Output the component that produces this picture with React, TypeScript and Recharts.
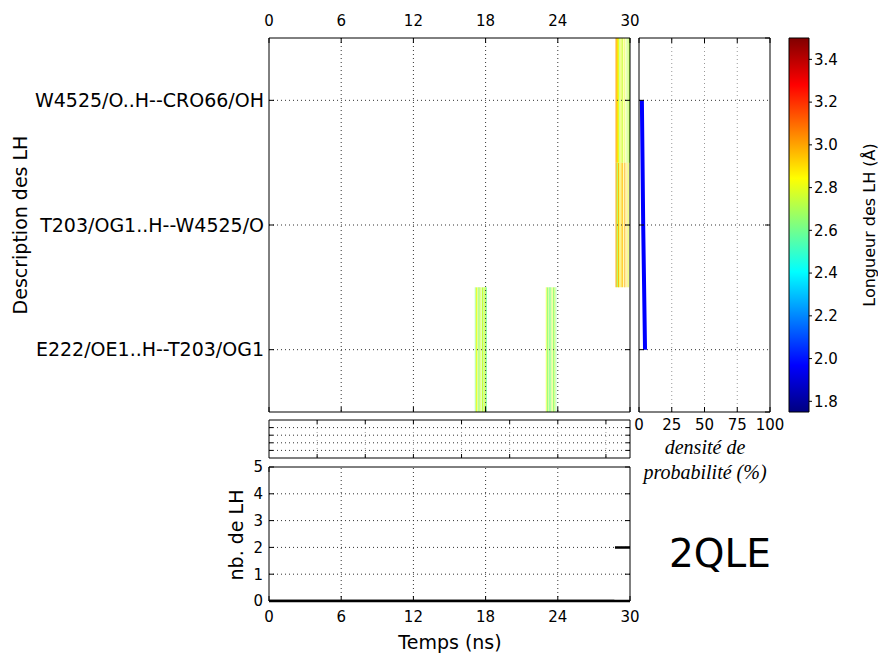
import React from 'react';
import { ComposedChart, LineChart, Line, XAxis, YAxis, ReferenceArea, ReferenceLine } from 'recharts';

const W = 878;
const H = 655;
const FONT = '"DejaVu Sans", sans-serif';

const BOND_LABELS = ['E222/OE1..H--T203/OG1', 'T203/OG1..H--W4525/O', 'W4525/O..H--CRO66/OH'];
const BOND_INDEX = [0, 1, 2];
const TIME_TICKS = [0, 6, 12, 18, 24, 30];
const TIME_GRID = [6, 12, 18, 24];
const STRIP_TICKS = [4, 8, 12, 16, 20, 24, 28];
const STRIP_Y_TICKS = [1, 2, 3, 4];
const DENSITY_TICKS = [0, 25, 50, 75, 100];
const DENSITY_GRID = [25, 50, 75];
const COLORBAR_TICKS = [1.8, 2.0, 2.2, 2.4, 2.6, 2.8, 3.0, 3.2, 3.4];
const COUNT_TICKS = [0, 1, 2, 3, 4, 5];
const COUNT_GRID = [1, 2, 3, 4];

// width of one frame stripe (ns)
const STEP = 0.1;

// E222/OE1..H--T203/OG1
const E222_T = [17.1, 17.2, 17.3, 17.4, 17.5, 17.6, 17.7, 17.8, 17.9, 18.0, 23.0, 23.1, 23.2, 23.3, 23.4, 23.5, 23.6, 23.7, 23.8];
const E222_LEN = [2.65, 2.8, 2.75, 2.65, 2.8, 2.7, 2.75, 2.65, 2.8, 2.6, 2.8, 2.65, 2.75, 2.6, 2.7, 2.8, 2.65, 2.75, 2.6];
const E222_OCC = [0.6, 0.9, 0.5, 1, 0.6, 0.4, 1, 0.6, 1, 0.9, 0.6, 0.9, 0.5, 1, 0.5, 0.4, 0.9, 0.6, 0.4];

// T203/OG1..H--W4525/O
const T203_T = [28.8, 28.9, 29.0, 29.1, 29.2, 29.3, 29.4, 29.5, 29.6, 29.7, 29.8];
const T203_LEN = [3.0, 2.7, 2.95, 2.8, 2.9, 2.95, 2.85, 3.0, 2.9, 2.95, 2.8];
const T203_OCC = [1, 0.9, 1, 0.6, 0.5, 1, 0.3, 0.6, 0.4, 0.3, 0.7];

// W4525/O..H--CRO66/OH
const W4525_T = [28.8, 28.9, 29.0, 29.1, 29.2, 29.3, 29.4, 29.5, 29.6, 29.7, 29.8, 29.9];
const W4525_LEN = [3.0, 2.9, 2.8, 2.7, 2.85, 2.75, 2.85, 2.8, 2.85, 2.7, 2.75, 2.7];
const W4525_OCC = [1, 1, 1, 0.6, 0.5, 1, 0.3, 0.5, 0.2, 0.5, 0.6, 1];

const DENSITY = [4.6, 3.2, 2.2]; // % per bond index
const COUNT_TIME = [0, 28.7, 28.72, 28.75, 30];
const COUNT_VALUE = [0, 0, null, 2, 2];

const jet = (v: number) => {
  const t = (v - 1.75) / 1.75;
  const c = (k: number) => Math.round(255 * Math.max(0, Math.min(1, 1.5 - Math.abs(4 * t - k))));
  return `rgb(${c(3)},${c(2)},${c(1)})`;
};

const blank = () => '';
const tickStyle = { fontSize: 15, fill: '#000' };

const stripes = [
  { bond: 0, t: E222_T, len: E222_LEN, occ: E222_OCC },
  { bond: 1, t: T203_T, len: T203_LEN, occ: T203_OCC },
  { bond: 2, t: W4525_T, len: W4525_LEN, occ: W4525_OCC },
];
const stripeData = stripes.flatMap((s) => s.t.map((t, i) => ({ t, bond: s.bond, len: s.len[i] })));

const densityData = BOND_INDEX.map((b) => ({ bond: b, density: DENSITY[b] }));
const countData = COUNT_TIME.map((t, i) => ({ t, n: COUNT_VALUE[i] }));
const stripData = STRIP_TICKS.map((t) => ({ t }));
const colorbarData = COLORBAR_TICKS.map((v, i) => ({ x: i % 2, v }));

const at = (left: number, top: number): React.CSSProperties => ({ position: 'absolute', left, top });

function Rotated({ x, y, size, children }: { x: number; y: number; size: number; children: React.ReactNode }) {
  return (
    <div style={{ position: 'absolute', left: x, top: y, fontSize: size, whiteSpace: 'nowrap', transform: 'translate(-50%, -50%) rotate(-90deg)' }}>
      {children}
    </div>
  );
}

export default function App() {
  return (
    <div style={{ position: 'absolute', left: 0, top: 0, width: W, height: H, background: '#fff', fontFamily: FONT, color: '#000', overflow: 'hidden' }}>
      {/* heatmap of H-bond lengths */}
      <div style={at(0, 0)}>
        <ComposedChart width={660} height={430} data={stripeData} margin={{ top: 8, left: 9, right: 20, bottom: 8 }}>
          <XAxis xAxisId="top" orientation="top" type="number" dataKey="t" height={30} domain={[0, 30]} ticks={TIME_TICKS} allowDataOverflow stroke="#000" tickSize={-5} tickMargin={17} tick={tickStyle} />
          <XAxis xAxisId="bottom" orientation="bottom" type="number" dataKey="t" height={10} domain={[0, 30]} ticks={TIME_TICKS} allowDataOverflow stroke="#000" tickSize={-5} tickFormatter={blank} />
          <YAxis yAxisId="left" type="number" dataKey="bond" width={260} domain={[-0.5, 2.5]} ticks={BOND_INDEX} allowDataOverflow stroke="#000" tickSize={-5} tickMargin={10} tickFormatter={(v: number) => BOND_LABELS[v]} tick={{ fontSize: 19, fill: '#000' }} />
          <YAxis yAxisId="right" orientation="right" type="number" dataKey="bond" width={10} domain={[-0.5, 2.5]} ticks={BOND_INDEX} allowDataOverflow stroke="#000" tickSize={-5} tickFormatter={blank} />
          {stripes.map((s) =>
            s.t.map((t, i) => (
              <ReferenceArea key={`${s.bond}-${i}`} xAxisId="top" yAxisId="left" x1={t} x2={t + STEP} y1={s.bond - 0.5} y2={s.bond + 0.5} fill={jet(s.len[i])} fillOpacity={s.occ[i]} stroke="none" ifOverflow="hidden" />
            ))
          )}
          {TIME_GRID.map((t) => (
            <ReferenceLine key={`v${t}`} xAxisId="top" yAxisId="left" x={t} stroke="#333" strokeDasharray="1 3" />
          ))}
          {BOND_INDEX.map((b) => (
            <ReferenceLine key={`h${b}`} xAxisId="top" yAxisId="left" y={b} stroke="#333" strokeDasharray="1 3" />
          ))}
        </ComposedChart>
      </div>

      {/* probability density */}
      <div style={at(600, 0)}>
        <LineChart layout="vertical" width={200} height={470} data={densityData} margin={{ top: 28, left: 29, right: 20, bottom: 28 }}>
          <XAxis xAxisId="bottom" orientation="bottom" type="number" dataKey="density" height={30} domain={[0, 100]} ticks={DENSITY_TICKS} allowDataOverflow stroke="#000" tickSize={-5} tickMargin={12} tick={tickStyle} />
          <XAxis xAxisId="top" orientation="top" type="number" height={10} domain={[0, 100]} ticks={DENSITY_TICKS} allowDataOverflow stroke="#000" tickSize={-5} tickFormatter={blank} />
          <YAxis yAxisId="left" type="number" dataKey="bond" width={10} domain={[-0.5, 2.5]} ticks={BOND_INDEX} reversed allowDataOverflow stroke="#000" tickSize={-5} tickFormatter={blank} />
          <YAxis yAxisId="right" orientation="right" type="number" width={10} domain={[-0.5, 2.5]} ticks={BOND_INDEX} reversed allowDataOverflow stroke="#000" tickSize={-5} tickFormatter={blank} />
          {DENSITY_GRID.map((d) => (
            <ReferenceLine key={`dv${d}`} xAxisId="bottom" yAxisId="left" x={d} stroke="#999" strokeDasharray="1 3" />
          ))}
          {BOND_INDEX.map((b) => (
            <ReferenceLine key={`dh${b}`} xAxisId="bottom" yAxisId="left" y={b} stroke="#333" strokeDasharray="1 3" />
          ))}
          <Line xAxisId="bottom" yAxisId="left" dataKey="density" stroke="#0000ff" strokeWidth={4} dot={false} isAnimationActive={false} />
        </LineChart>
      </div>

      {/* colorbar */}
      <div style={at(780, 0)}>
        <ComposedChart width={80} height={440} data={colorbarData} margin={{ top: 38, left: 9, right: 11, bottom: 28 }}>
          <defs>
            <linearGradient id="jetGrad" x1="0" y1="1" x2="0" y2="0">
              <stop offset="0" stopColor="#000080" />
              <stop offset="0.125" stopColor="#0000ff" />
              <stop offset="0.375" stopColor="#00ffff" />
              <stop offset="0.625" stopColor="#ffff00" />
              <stop offset="0.875" stopColor="#ff0000" />
              <stop offset="1" stopColor="#800000" />
            </linearGradient>
          </defs>
          <XAxis xAxisId="cb" type="number" dataKey="x" domain={[0, 1]} allowDataOverflow hide />
          <YAxis yAxisId="cb" orientation="right" type="number" dataKey="v" width={40} domain={[1.75, 3.5]} ticks={COLORBAR_TICKS} allowDataOverflow axisLine={false} stroke="#000" tickSize={3} tickMargin={2} tick={tickStyle} tickFormatter={(v: number) => v.toFixed(1)} />
          <ReferenceArea xAxisId="cb" yAxisId="cb" y1={1.75} y2={3.5} fill="url(#jetGrad)" fillOpacity={1} stroke="#000" strokeWidth={1} />
        </ComposedChart>
      </div>

      {/* strip between panels */}
      <div style={at(250, 400)}>
        <ComposedChart width={400} height={70} data={stripData} margin={{ top: 10, left: 9, right: 10, bottom: 2 }}>
          <XAxis xAxisId="top" orientation="top" type="number" dataKey="t" height={10} domain={[0, 30]} ticks={STRIP_TICKS} allowDataOverflow stroke="#000" tickSize={-4} tickFormatter={blank} />
          <XAxis xAxisId="bottom" orientation="bottom" type="number" dataKey="t" height={10} domain={[0, 30]} ticks={STRIP_TICKS} allowDataOverflow stroke="#000" tickSize={-4} tickFormatter={blank} />
          <YAxis yAxisId="left" type="number" width={10} domain={[0, 5]} ticks={STRIP_Y_TICKS} allowDataOverflow stroke="#000" tickSize={-4} tickFormatter={blank} />
          <YAxis yAxisId="right" orientation="right" type="number" width={10} domain={[0, 5]} ticks={STRIP_Y_TICKS} allowDataOverflow stroke="#000" tickSize={-4} tickFormatter={blank} />
          {STRIP_TICKS.map((t) => (
            <ReferenceLine key={`sv${t}`} xAxisId="top" yAxisId="left" x={t} stroke="#999" strokeDasharray="1 3" />
          ))}
          {STRIP_Y_TICKS.map((y) => (
            <ReferenceLine key={`sh${y}`} xAxisId="top" yAxisId="left" y={y} stroke="#333" strokeDasharray="1 3" />
          ))}
        </ComposedChart>
      </div>

      {/* number of H-bonds */}
      <div style={at(200, 440)}>
        <LineChart width={450} height={215} data={countData} margin={{ top: 17, left: 39, right: 10, bottom: 24 }}>
          <XAxis xAxisId="bottom" orientation="bottom" type="number" dataKey="t" height={30} domain={[0, 30]} ticks={TIME_TICKS} allowDataOverflow stroke="#000" axisLine={{ stroke: '#000', strokeWidth: 2.5 }} tickSize={-5} tickMargin={15} tick={tickStyle} />
          <XAxis xAxisId="top" orientation="top" type="number" height={10} domain={[0, 30]} ticks={TIME_TICKS} allowDataOverflow stroke="#000" tickSize={-5} tickFormatter={blank} />
          <YAxis yAxisId="left" type="number" width={30} domain={[0, 5]} ticks={COUNT_TICKS} allowDataOverflow stroke="#000" tickSize={-5} tickMargin={11} tick={tickStyle} />
          <YAxis yAxisId="right" orientation="right" type="number" width={10} domain={[0, 5]} ticks={COUNT_TICKS} allowDataOverflow stroke="#000" tickSize={-5} tickFormatter={blank} />
          {TIME_GRID.map((t) => (
            <ReferenceLine key={`cv${t}`} xAxisId="bottom" yAxisId="left" x={t} stroke="#333" strokeDasharray="1 3" />
          ))}
          {COUNT_GRID.map((y) => (
            <ReferenceLine key={`ch${y}`} xAxisId="bottom" yAxisId="left" y={y} stroke="#333" strokeDasharray="1 3" />
          ))}
          <Line xAxisId="bottom" yAxisId="left" dataKey="n" stroke="#000" strokeWidth={2.5} dot={false} connectNulls={false} isAnimationActive={false} />
        </LineChart>
      </div>

      <Rotated x={20} y={225} size={19}>Description des LH</Rotated>
      <Rotated x={869} y={225} size={16}>Longueur des LH (Å)</Rotated>
      <Rotated x={236} y={535} size={19}>nb. de LH</Rotated>
      <div style={{ position: 'absolute', left: 450, top: 642, transform: 'translate(-50%, -50%)', fontSize: 19, whiteSpace: 'nowrap' }}>Temps (ns)</div>
      <div style={{ position: 'absolute', left: 705, top: 460, transform: 'translate(-50%, -50%)', fontSize: 20, fontStyle: 'italic', fontFamily: '"Liberation Serif", serif', textAlign: 'center', lineHeight: '25px', whiteSpace: 'nowrap' }}>
        densité de
        <br />
        probabilité (%)
      </div>
      <div style={{ position: 'absolute', left: 720, top: 553, transform: 'translate(-50%, -50%)', fontSize: 39, whiteSpace: 'nowrap' }}>2QLE</div>
    </div>
  );
}
